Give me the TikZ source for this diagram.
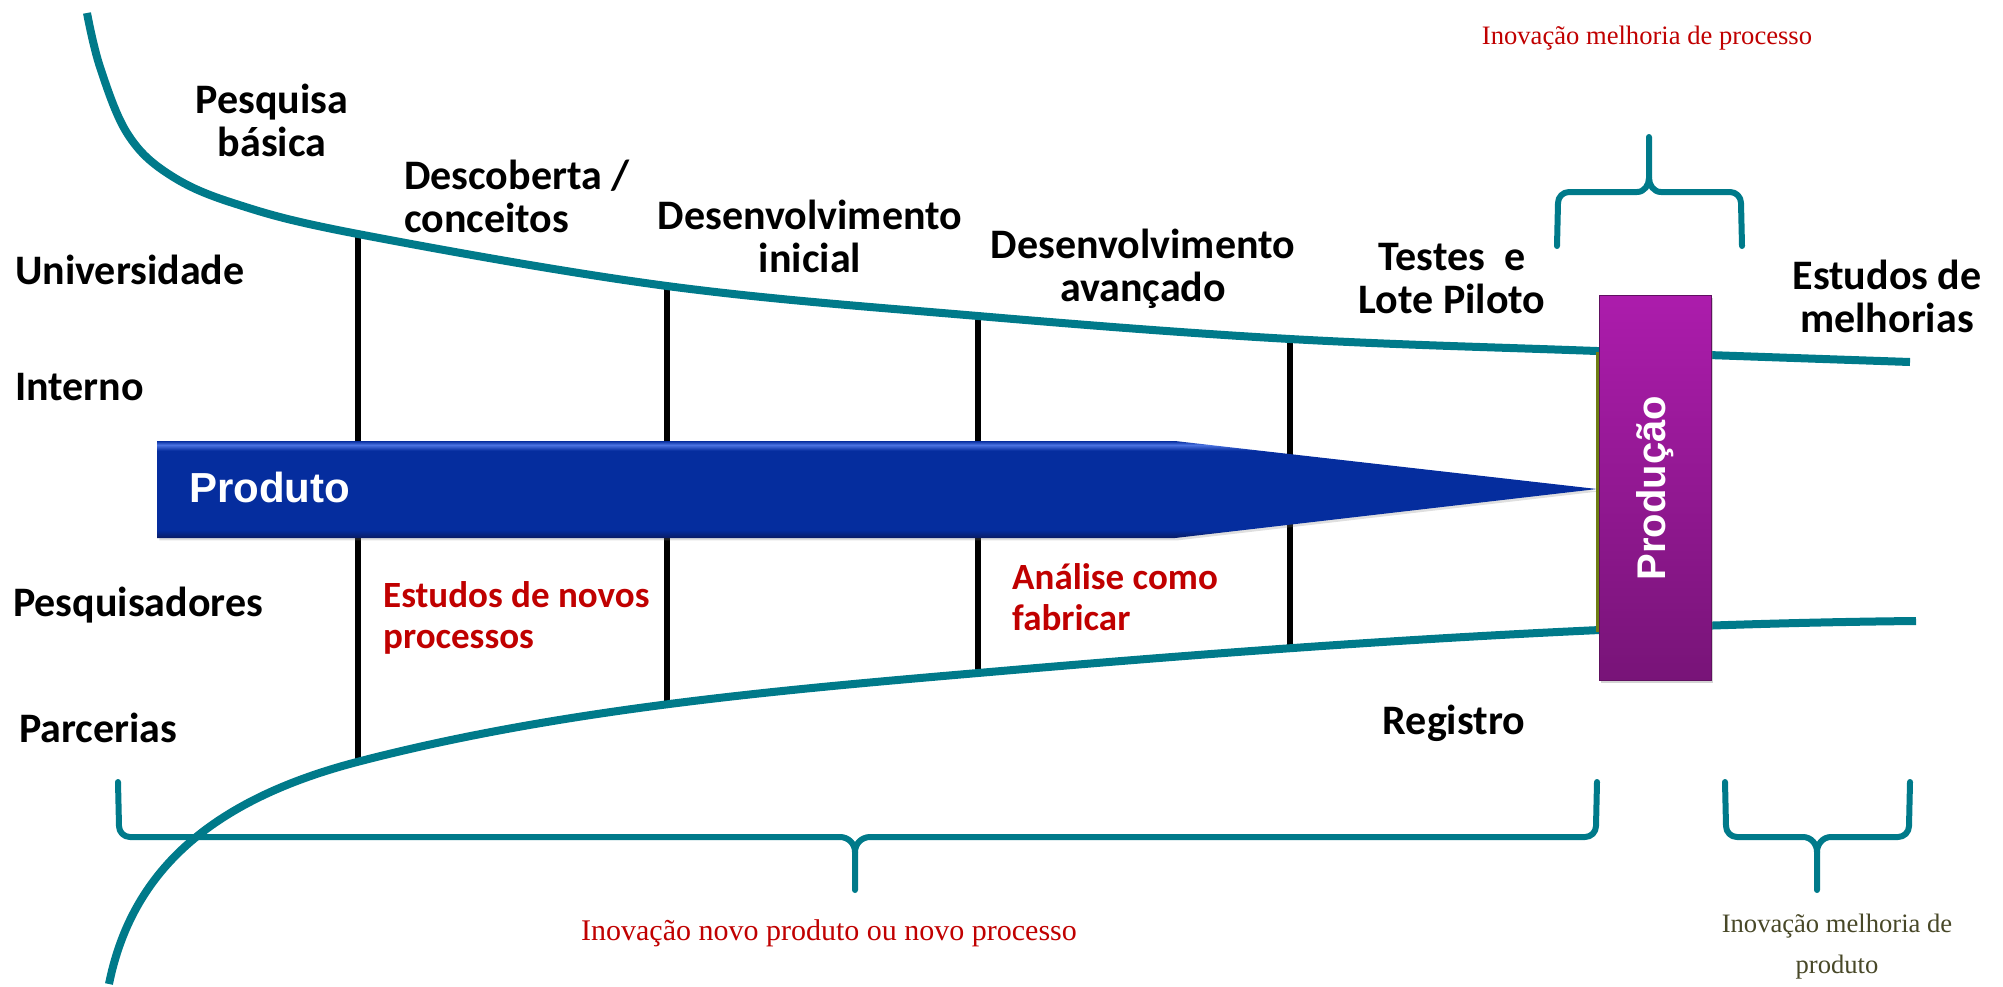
\documentclass[tikz,border=0pt]{standalone}
\usepackage{fontspec}
\setmainfont{Carlito}
\newfontfamily\arialfont{Liberation Sans}
\newfontfamily\serffont{Liberation Serif}
\usetikzlibrary{positioning,calc,shadows}
\definecolor{tealc}{RGB}{0,122,138}
\definecolor{redc}{RGB}{192,0,0}
\definecolor{olivetxt}{RGB}{72,72,40}
\definecolor{oliveln}{RGB}{110,125,20}
\definecolor{arrowtop}{RGB}{75,115,225}
\definecolor{arrowmid}{RGB}{5,45,158}
\definecolor{arrowbot}{RGB}{10,28,100}
\definecolor{prodtop}{RGB}{172,28,172}
\definecolor{prodbot}{RGB}{120,20,120}
\pgfdeclareverticalshading{arrowshade}{100bp}{color(0bp)=(arrowbot);
  color(25bp)=(arrowbot); color(29bp)=(arrowmid); color(70bp)=(arrowmid);
  color(73bp)=(arrowtop); color(75bp)=(arrowmid); color(100bp)=(arrowmid)}
\tikzstyle{curve}=[draw=tealc, line width=8pt]
\tikzstyle{stage}=[draw=black, line width=6.5pt]
\tikzstyle{brc}=[draw=tealc, line width=6pt, line cap=round, line join=round]
\tikzstyle{lbl}=[font=\fontsize{42}{43}\selectfont\bfseries, align=center, inner sep=0pt]
\tikzstyle{side}=[lbl, anchor=west, align=left]
\tikzstyle{redlbl}=[font=\fontsize{37}{41}\selectfont\bfseries, inner sep=0pt,
                    anchor=west, align=left, text=redc]
\tikzstyle{inov}=[font=\serffont\fontsize{26.6}{41}\selectfont, text=redc,
                  align=center, inner sep=0pt]
\tikzstyle{prodbox}=[rectangle, top color=prodtop, bottom color=prodbot,
                     draw=prodbot!80!black, thin, minimum width=112pt,
                     minimum height=385pt, inner sep=0pt, drop shadow={opacity=0.35}]

\begin{document}
\begin{tikzpicture}[x=1pt,y=-1pt]
\useasboundingbox (0,0) rectangle (2003,986);

% stages
\foreach \x/\yt/\yb in {358/234/762, 667/286/705, 978/316/673, 1290/339/650}
  \draw[stage] (\x,\yt) -- (\x,\yb);

% funnel
\draw[curve] plot[smooth, tension=0.6] coordinates {(87,13) (100,67) (127,133)
  (167,173) (233,203) (358,234) (667,286) (978,316) (1290,339) (1597,351) (1910,362)};
\draw[curve] (109,984) .. controls (130,880) and (200,803) .. (357,762)
  .. controls (560,709) and (780,690) .. (978,673)
  .. controls (1278,647) and (1600,624) .. (1916,621);

% product arrow
\shade[shading=arrowshade, drop shadow={opacity=0.25}]
  (157,441) -- (1175,441) -- (1597,489) -- (1175,538) -- (157,538) -- cycle;
\node (PRODUTO) [anchor=west, text=white, inner sep=0pt,
  font=\arialfont\bfseries\fontsize{42}{44}\selectfont] at (189,487) {Produto};

\draw[oliveln, line width=3pt] (1597,352) -- (1597,632);
\node (PROD) [prodbox] at (1655,488) {};
\node (PRODLBL) [rotate=90, text=white, inner sep=0pt,
  font=\arialfont\bfseries\fontsize{40}{44}\selectfont] at (PROD.center) {Produção};

% braces
\draw[brc] (118,782) -- (119,826) to[out=-90,in=180] (130,837) -- (840,837)
  to[out=0,in=90] (855,852) -- (855,890);
\draw[brc] (1597,782) -- (1596,826) to[out=-90,in=0] (1585,837) -- (870,837)
  to[out=180,in=90] (855,852);
\draw[brc] (1725,782) -- (1726,826) to[out=-90,in=180] (1737,837) -- (1803,837)
  to[out=0,in=90] (1817,852) -- (1817,890);
\draw[brc] (1910,782) -- (1909,826) to[out=-90,in=0] (1898,837) -- (1831,837)
  to[out=180,in=90] (1817,852);
\draw[brc] (1557,246) -- (1558,203) to[out=90,in=180] (1569,192) -- (1637,192)
  to[out=0,in=-90] (1649,178) -- (1649,137);
\draw[brc] (1742,246) -- (1741,203) to[out=90,in=0] (1730,192) -- (1661,192)
  to[out=180,in=-90] (1649,178);

% stage labels
\node (PB) [lbl] at (272,120) {Pesquisa\\básica};
\node (DC) [lbl, anchor=west, align=left] at (404,196) {Descoberta /\\conceitos};
\node (DI) [lbl] at (810,236) {Desenvolvimento\\inicial};
\node (DA) [lbl] at (1143,269) {Desenvolvimento\\avançado};
\node (TL) [lbl] at (1452,279) {Testes~ e\\Lote Piloto};
\node (EM) [lbl] at (1887,296) {Estudos de\\melhorias};
\node (REG) [lbl] at (1454,723) {Registro};

% actors
\node (UNI) [side] at (15,270) {Universidade};
\node (INT) [side] at (15,387) {Interno};
\node (PESQ) [side] at (13,605) {Pesquisadores};
\node (PARC) [side] at (19,728) {Parcerias};

\node (ENP) [redlbl] at (383,618) {Estudos de novos\\processos};
\node (ACF) [redlbl] at (1012,597) {Análise como\\fabricar};

% innovation
\node (INMP) [inov, anchor=base] at (1647,44) {Inovação melhoria de processo};
\node (INNP) [inov, anchor=base, font=\serffont\fontsize{30}{41}\selectfont]
  at (829,940) {Inovação novo produto ou novo processo};
\node (INMPR) [inov, text=olivetxt, anchor=base] at (1837,973) {Inovação melhoria de\\produto};

\end{tikzpicture}
\end{document}
